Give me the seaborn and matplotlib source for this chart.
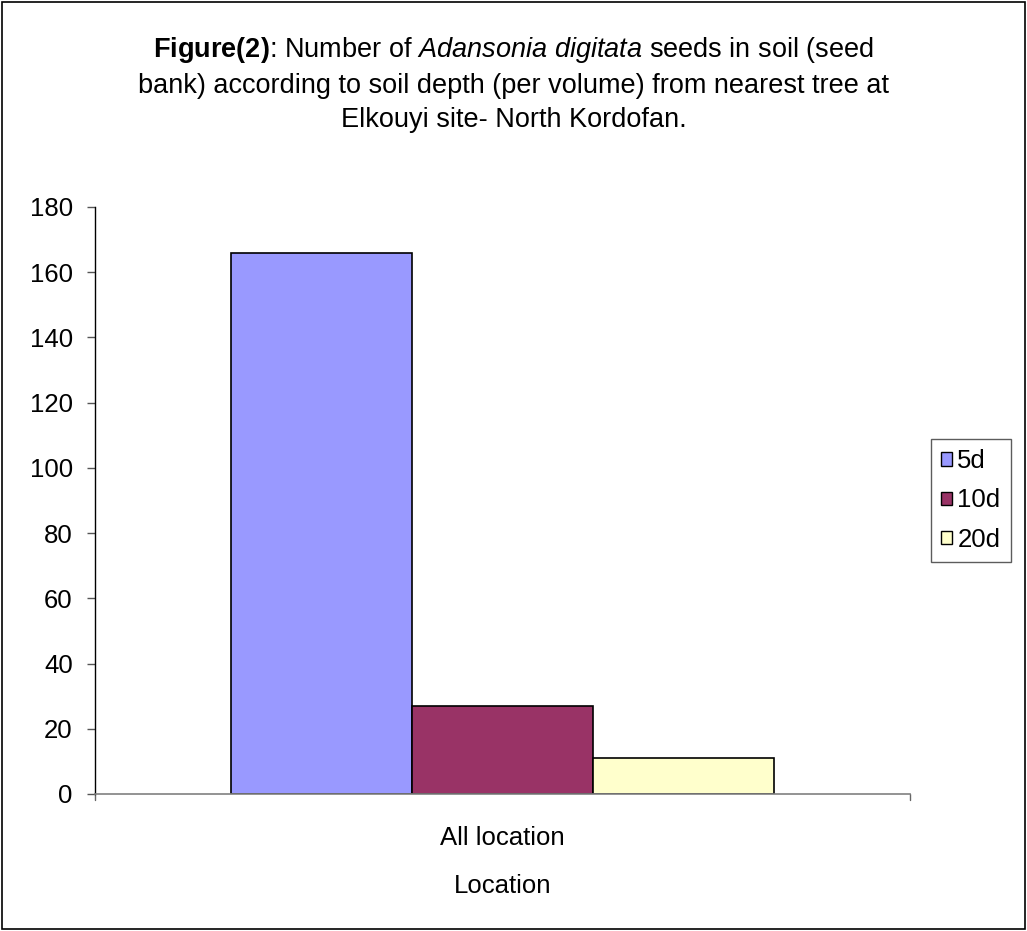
import matplotlib
matplotlib.use("Agg")
import matplotlib.pyplot as plt
import seaborn as sns
import pandas as pd
from matplotlib.patches import Rectangle

# Seed counts per soil depth
locations = ["All location"]
depths = ["5d", "10d", "20d"]
counts = [166, 27, 11]
colors = ["#9999FF", "#993366", "#FFFFCC"]
yticks = [0, 20, 40, 60, 80, 100, 120, 140, 160, 180]

df = pd.DataFrame({
    "Location": locations * len(depths),
    "Depth": depths,
    "Seeds": counts,
})

sns.set_style("white")
plt.rcParams["font.family"] = ["Liberation Sans", "DejaVu Sans"]
plt.rcParams["text.color"] = "black"
plt.rcParams["xtick.color"] = "black"
plt.rcParams["ytick.color"] = "black"
plt.rcParams["axes.labelcolor"] = "black"
plt.rcParams["mathtext.fontset"] = "custom"
plt.rcParams["mathtext.rm"] = "Liberation Sans"
plt.rcParams["mathtext.bf"] = "Liberation Sans:bold"
plt.rcParams["mathtext.it"] = "Liberation Sans:italic"

FS = 18.5

fig = plt.figure(figsize=(10.27, 9.31), dpi=100)
ax = fig.add_axes([0.0925, 0.1472, 0.7935, 0.6305])

sns.barplot(data=df, x="Location", y="Seeds", hue="Depth", hue_order=depths,
            palette=colors, edgecolor="black", linewidth=1.2, width=0.667,
            saturation=1, ax=ax)

ax.set_xlim(-0.5, 0.5)
ax.set_ylim(0, 180)
ax.set_yticks(yticks)
ax.set_yticklabels([str(t) for t in yticks], fontsize=FS)
ax.set_xticks([0])
ax.set_xticklabels(locations, fontsize=FS)
ax.tick_params(axis="x", length=0, pad=23)
ax.tick_params(axis="y", length=6, width=1, color="#555555", direction="out", left=True, pad=10)

# category boundary ticks on the x axis
for xb in (-0.5, 0.5):
    ax.plot([xb, xb], [0, -2.0], color="#666666", lw=1, clip_on=False,
            transform=ax.transData)

ax.set_xlabel("Location", fontsize=FS, labelpad=17)
ax.set_ylabel("")
for side in ("top", "right"):
    ax.spines[side].set_visible(False)
ax.spines["left"].set_color("black")
ax.spines["bottom"].set_color("#808080")
ax.spines["left"].set_linewidth(1)
ax.spines["bottom"].set_linewidth(1.2)

leg = ax.legend(loc="center left", bbox_to_anchor=(1.026, 0.5), fontsize=FS,
                frameon=True, fancybox=False, edgecolor="#333333",
                handlelength=0.42, handleheight=0.42, handletextpad=0.2,
                labelspacing=0.6, borderpad=0.4, borderaxespad=0)
leg.get_frame().set_linewidth(1)
leg.set_title(None)
for h in leg.legend_handles:
    h.set_linewidth(1)

fig.text(0.5, 0.9098,
         r"$\bf{Figure(2)}$: Number of $\it{Adansonia\ digitata}$ seeds in soil (seed" "\n"
         "bank) according to soil depth (per volume) from nearest tree at\n"
         "Elkouyi site- North Kordofan.",
         ha="center", va="center", fontsize=19.5, linespacing=1.42)

# outer frame around the chart
fig.patches.append(Rectangle((0.002, 0.002), 0.996, 0.996, transform=fig.transFigure,
                             fill=False, edgecolor="black", linewidth=1.2))

fig.savefig("out.png", dpi=100)
